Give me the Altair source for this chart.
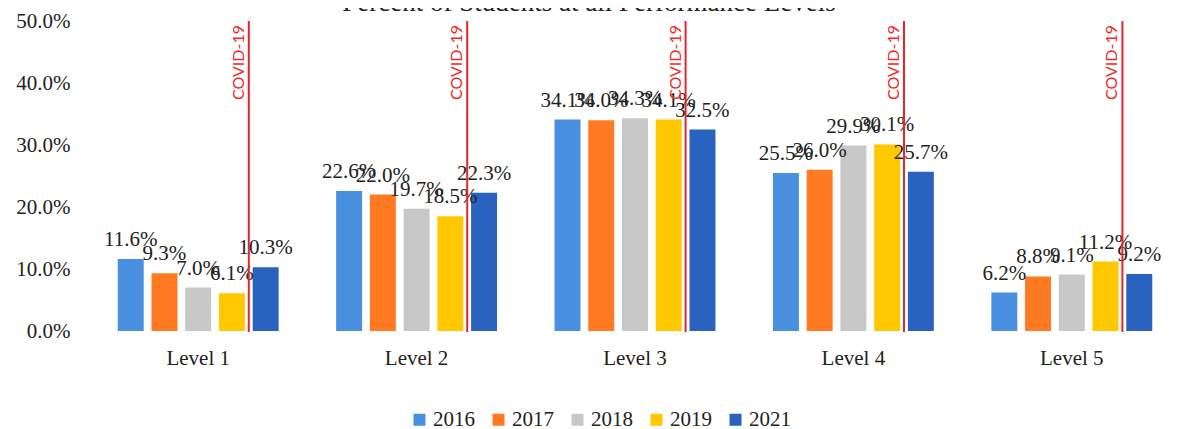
import altair as alt
import pandas as pd

levels = ["Level 1", "Level 2", "Level 3", "Level 4", "Level 5"]
years = ["2016", "2017", "2018", "2019", "2021"]
v2016 = [11.6, 22.6, 34.1, 25.5, 6.2]
v2017 = [9.3, 22.0, 34.0, 26.0, 8.8]
v2018 = [7.0, 19.7, 34.3, 29.9, 9.1]
v2019 = [6.1, 18.5, 34.1, 30.1, 11.2]
v2021 = [10.3, 22.3, 32.5, 25.7, 9.2]
colors = ["#4a90e0", "#ff7a22", "#c8c8c8", "#ffc800", "#2a62c0"]
covid_label = "COVID-19"
title = "Percent of Students at all Performance Levels"

series = [v2016, v2017, v2018, v2019, v2021]
rows = []
for y, vals in zip(years, series):
    for lv, v in zip(levels, vals):
        rows.append({"Level": lv, "Year": y, "Value": v / 100.0})
df = pd.DataFrame(rows)
covid_df = pd.DataFrame({"Level": levels, "label": [covid_label] * len(levels)})
title_df = pd.DataFrame({"t": [title]})

serif = "Liberation Serif"

x_enc = alt.X("Level:N", sort=levels, title=None,
              scale=alt.Scale(range=[0, 1092], paddingInner=0, paddingOuter=0),
              axis=alt.Axis(labelFont=serif, labelFontSize=21, labelColor="#222",
                            labelAngle=0, domain=False, ticks=False, tickSize=0,
                            labelPadding=16))
xo_enc = alt.XOffset("Year:N", sort=years,
                     scale=alt.Scale(paddingInner=0.23, paddingOuter=0.852))
y_enc = alt.Y("Value:Q", title=None,
              scale=alt.Scale(domain=[0, 0.5], nice=False),
              axis=alt.Axis(format=".1%", values=[0, 0.1, 0.2, 0.3, 0.4, 0.5],
                            labelFont=serif, labelFontSize=21, labelColor="#222",
                            domain=False, ticks=False, tickSize=0, grid=False,
                            labelPadding=19))

base = alt.Chart(df)

bars = base.mark_bar().encode(
    x=x_enc,
    xOffset=xo_enc,
    y=y_enc,
    color=alt.Color("Year:N", sort=years,
                    scale=alt.Scale(domain=years, range=colors),
                    legend=alt.Legend(title=None, orient="none", direction="horizontal",
                                      columns=5, legendX=320, legendY=388,
                                      symbolType="square", symbolSize=144,
                                      symbolStrokeWidth=0, labelFont=serif,
                                      labelFontSize=21, labelColor="#222",
                                      labelOffset=3, columnPadding=13, padding=0)),
)

labels = base.mark_text(font=serif, fontSize=21, color="#222", baseline="alphabetic",
                        dy=-13).encode(
    x=alt.X("Level:N", sort=levels),
    xOffset=alt.XOffset("Year:N", sort=years),
    y=alt.Y("Value:Q"),
    text=alt.Text("Value:Q", format=".1%"),
)

rules = alt.Chart(covid_df).mark_rule(color="#e5252c", strokeWidth=2).encode(
    x=alt.X("Level:N", sort=levels),
    xOffset=alt.value(159.8),
    y=alt.value(0),
    y2=alt.value(311),
)

covid_text = alt.Chart(covid_df).mark_text(
    font="Lato", fontSize=16, color="#f02a2a", angle=270, align="right",
    baseline="alphabetic").encode(
    x=alt.X("Level:N", sort=levels),
    xOffset=alt.value(154.8),
    y=alt.value(4),
    text="label:N",
)

title_mark = alt.Chart(title_df).mark_text(
    font=serif, fontSize=27, color="#222", align="center", baseline="alphabetic"
).encode(
    x=alt.value(500),
    y=alt.value(-10),
    text="t:N",
)

chart = alt.layer(bars, labels, rules, covid_text, title_mark).properties(
    width=1080, height=310,
    autosize=alt.AutoSizeParams(type="none"),
    padding={"left": 81, "top": 13, "right": 0, "bottom": 98},
).configure_view(stroke=None)

chart.save("out.html", embed_options={"renderer": "svg", "actions": False})
